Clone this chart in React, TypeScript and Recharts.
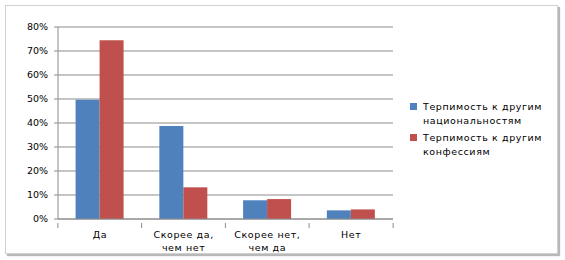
import { BarChart, Bar, XAxis, YAxis, CartesianGrid } from "recharts";

const categories = ["Да", "Скорее да, чем нет", "Скорее нет, чем да", "Нет"];
const nationalities = [49.7, 38.7, 7.8, 3.6];
const confessions = [74.5, 13.2, 8.3, 4.0];
const yTicks = [0, 10, 20, 30, 40, 50, 60, 70, 80];
const seriesNames = ["Терпимость к другим национальностям", "Терпимость к другим конфессиям"];
const seriesColors = ["#4F81BD", "#C0504D"];

const data = categories.map((name, i) => ({
  name,
  nat: nationalities[i],
  conf: confessions[i],
}));

const font = "'DejaVu Sans', Verdana, sans-serif";
const halfBand = 42;

function CategoryTick({ x, y, payload, index }: any) {
  const label: string = payload.value;
  const idx = label.indexOf(", ");
  const lines = idx >= 0 ? [label.slice(0, idx + 1), label.slice(idx + 2)] : [label];
  const last = index === categories.length - 1;
  return (
    <g>
      <line x1={x - halfBand} x2={x - halfBand} y1={y - 4} y2={y + 1} stroke="#8c8c8c" />
      {last && <line x1={x + halfBand} x2={x + halfBand} y1={y - 4} y2={y + 1} stroke="#8c8c8c" />}
      <text x={x} y={y + 11} textAnchor="middle" fontSize={9.5} fill="#000" fontFamily={font} letterSpacing={0.6}>
        {lines.map((l, i) => (
          <tspan key={i} x={x} dy={i === 0 ? 0 : 13}>
            {l}
          </tspan>
        ))}
      </text>
    </g>
  );
}

function LegendBox() {
  return (
    <div style={{ fontFamily: font, fontSize: 9.5, color: "#000", letterSpacing: 0.6, lineHeight: "14px" }}>
      {seriesNames.map((name, i) => (
        <div key={name} style={{ display: "flex", alignItems: "flex-start", marginBottom: 3 }}>
          <span
            style={{
              width: 7,
              height: 7,
              background: seriesColors[i],
              marginTop: 3,
              marginRight: 6,
              flexShrink: 0,
            }}
          />
          <span style={{ width: 130 }}>{name}</span>
        </div>
      ))}
    </div>
  );
}

export default function App() {
  return (
    <div style={{ position: "absolute", left: 0, top: 0, width: 565, height: 260, background: "#fff" }}>
      <div
        style={{
          position: "absolute",
          left: 5,
          top: 5,
          width: 551,
          height: 247,
          border: "1px solid #d0d0d0",
          boxShadow: "2px 2px 1px #b8b8b8",
        }}
      />
      <div style={{ position: "absolute", left: 0, top: 0 }}>
        <BarChart
          width={565}
          height={260}
          data={data}
          margin={{ top: 27, right: 172, bottom: 10, left: 8 }}
          barCategoryGap="21%"
          barGap={0}
        >
          <CartesianGrid vertical={false} stroke="#8c8c8c" />
          <XAxis
            dataKey="name"
            height={31}
            interval={0}
            tick={<CategoryTick />}
            stroke="#8c8c8c"
            tickLine={false}
          />
          <YAxis
            width={50}
            domain={[0, 80]}
            ticks={yTicks}
            tickFormatter={(v: number) => `${v}%`}
            tick={{ fontSize: 9.5, fill: "#000", fontFamily: font }}
            stroke="#8c8c8c"
            tickSize={4}
            tickMargin={6}
            interval={0}
          />
          <Bar dataKey="nat" name={seriesNames[0]} fill={seriesColors[0]} isAnimationActive={false} />
          <Bar dataKey="conf" name={seriesNames[1]} fill={seriesColors[1]} isAnimationActive={false} />
        </BarChart>
      </div>
      <div style={{ position: "absolute", left: 410, top: 100, width: 150 }}>
        <LegendBox />
      </div>
    </div>
  );
}
